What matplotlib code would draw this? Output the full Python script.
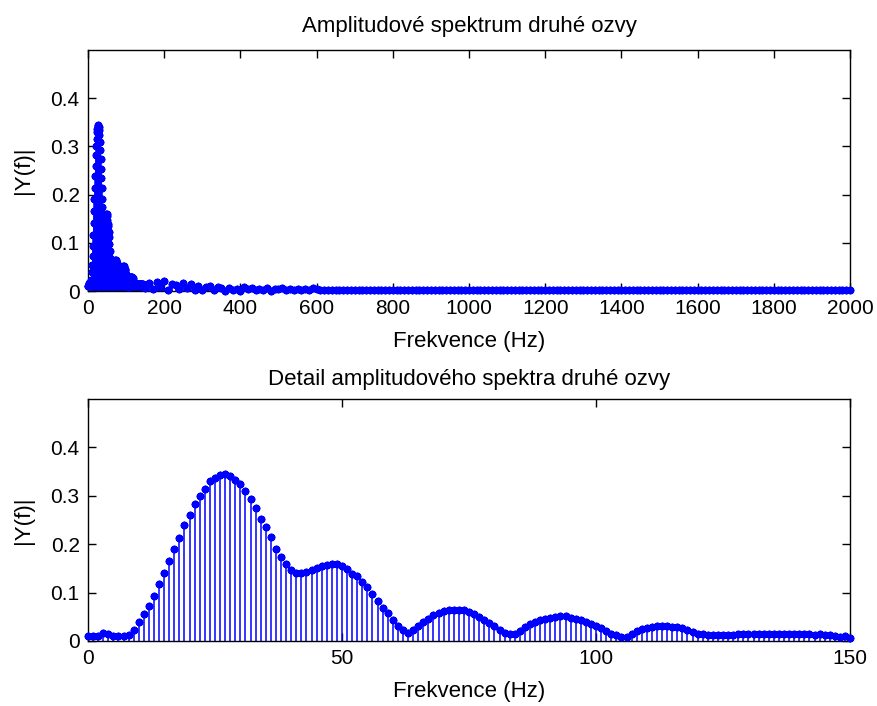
import numpy as np
import matplotlib
matplotlib.use("Agg")
from matplotlib import pyplot as plt

plt.rcParams['font.family'] = ['Liberation Sans', 'DejaVu Sans']

# detail spectrum, 0..150 Hz at 1 Hz steps
detail_freq = np.arange(0, 151)
detail_amp = [
    0.010, 0.010, 0.010, 0.016, 0.015, 0.010, 0.010, 0.010, 0.012, 0.023,
    0.039, 0.055, 0.072, 0.093, 0.117, 0.141, 0.166, 0.191, 0.213, 0.239,
    0.260, 0.283, 0.300, 0.315, 0.330, 0.336, 0.342, 0.344, 0.340, 0.333,
    0.324, 0.310, 0.293, 0.274, 0.253, 0.235, 0.214, 0.191, 0.174, 0.159,
    0.146, 0.141, 0.141, 0.142, 0.146, 0.150, 0.155, 0.158, 0.160, 0.160,
    0.155, 0.148, 0.138, 0.134, 0.122, 0.112, 0.098, 0.083, 0.069, 0.057,
    0.044, 0.030, 0.022, 0.017, 0.022, 0.030, 0.039, 0.046, 0.053, 0.058,
    0.062, 0.063, 0.065, 0.065, 0.063, 0.059, 0.055, 0.050, 0.044, 0.037,
    0.030, 0.023, 0.017, 0.014, 0.015, 0.021, 0.028, 0.035, 0.039, 0.043,
    0.046, 0.048, 0.050, 0.051, 0.051, 0.048, 0.045, 0.043, 0.039, 0.036,
    0.030, 0.026, 0.020, 0.015, 0.012, 0.008, 0.008, 0.015, 0.020, 0.024,
    0.027, 0.029, 0.030, 0.030, 0.030, 0.029, 0.028, 0.026, 0.022, 0.019,
    0.015, 0.014, 0.012, 0.012, 0.012, 0.012, 0.012, 0.013, 0.015, 0.015,
    0.015, 0.015, 0.015, 0.015, 0.015, 0.015, 0.015, 0.015, 0.015, 0.015,
    0.015, 0.015, 0.015, 0.013, 0.015, 0.013, 0.012, 0.010, 0.008, 0.010,
    0.007,
]

# rest of the spectrum, 160..2000 Hz (read coarser, 10 Hz steps)
tail_freq = np.arange(160, 2001, 10)
tail_amp = [
    # 160 .. 600 Hz
    0.016, 0.004, 0.018, 0.008, 0.020, 0.003, 0.015, 0.012, 0.004, 0.017,
    0.006, 0.014, 0.002, 0.011, 0.003, 0.009, 0.010, 0.002, 0.008, 0.006,
    0.001, 0.007, 0.003, 0.005, 0.001, 0.009, 0.004, 0.006, 0.002, 0.005,
    0.003, 0.007, 0.001, 0.005, 0.004, 0.006, 0.002, 0.005, 0.003, 0.004,
    0.002, 0.005, 0.003, 0.006, 0.004,
    # 610 .. 2000 Hz
    0.003, 0.002, 0.003, 0.002, 0.003, 0.002, 0.003, 0.003, 0.002, 0.003,
    0.002, 0.003, 0.002, 0.002, 0.003, 0.002, 0.003, 0.002, 0.003, 0.002,
    0.003, 0.002, 0.002, 0.003, 0.002, 0.003, 0.002, 0.003, 0.002, 0.002,
    0.003, 0.002, 0.003, 0.002, 0.003, 0.002, 0.002, 0.003, 0.002, 0.003,
    0.002, 0.003, 0.002, 0.002, 0.003, 0.002, 0.003, 0.002, 0.003, 0.002,
    0.002, 0.003, 0.002, 0.003, 0.002, 0.003, 0.002, 0.002, 0.003, 0.002,
    0.003, 0.002, 0.003, 0.002, 0.002, 0.003, 0.002, 0.003, 0.002, 0.003,
    0.002, 0.002, 0.003, 0.002, 0.003, 0.002, 0.003, 0.002, 0.002, 0.003,
    0.002, 0.003, 0.002, 0.003, 0.002, 0.002, 0.003, 0.002, 0.003, 0.002,
    0.003, 0.002, 0.002, 0.003, 0.002, 0.003, 0.002, 0.003, 0.002, 0.002,
    0.002, 0.003, 0.002, 0.002, 0.003, 0.002, 0.003, 0.002, 0.002, 0.003,
    0.003, 0.002, 0.002, 0.003, 0.002, 0.002, 0.003, 0.002, 0.003, 0.002,
    0.002, 0.003, 0.002, 0.002, 0.003, 0.002, 0.002, 0.003, 0.002, 0.003,
    0.002, 0.002, 0.003, 0.002, 0.002, 0.003, 0.002, 0.002, 0.003, 0.002,
]

full_freq = np.concatenate([detail_freq, tail_freq])
full_amp = np.concatenate([detail_amp, tail_amp])

ytick_vals = [0, 0.1, 0.2, 0.3, 0.4]
ytick_labels = ['0', '0.1', '0.2', '0.3', '0.4']


def stem_panel(ax, x, y, xlim, xticks, title, title_pad):
    markerline, stemlines, baseline = ax.stem(x, y, linefmt='b-', basefmt=' ')
    markerline.set_marker((8, 2, 0))
    markerline.set_markersize(5.5)
    markerline.set_markeredgewidth(1.5)
    markerline.set_color('#0000ff')
    markerline.set_clip_on(False)
    markerline.set_zorder(3)
    stemlines.set_linewidth(1.1)
    stemlines.set_color('#0000ff')
    baseline.set_visible(False)

    ax.set_xlim(xlim)
    ax.set_ylim(0, 0.5)
    ax.set_xticks(xticks)
    ax.set_yticks(ytick_vals)
    ax.set_yticklabels(ytick_labels)
    ax.tick_params(direction='in', length=6, width=1, top=True, right=True,
                   labelsize=15, pad=6)
    for sp in ax.spines.values():
        sp.set_linewidth(1)
    ax.set_title(title, fontsize=16, pad=title_pad)
    ax.set_xlabel('Frekvence (Hz)', fontsize=16, labelpad=9)
    ax.set_ylabel('|Y(f)|', fontsize=16, labelpad=12)


fig = plt.figure(figsize=(8.77, 7.06), dpi=100)
ax1 = fig.add_axes([0.1003, 0.5878, 0.869, 0.3414])
ax2 = fig.add_axes([0.1003, 0.0921, 0.869, 0.3428])

stem_panel(ax1, full_freq, full_amp, (0, 2000), np.arange(0, 2001, 200),
           'Amplitudové spektrum druhé ozvy', 13)
stem_panel(ax2, detail_freq, detail_amp, (0, 150), [0, 50, 100, 150],
           'Detail amplitudového spektra druhé ozvy', 10)

plt.savefig('out.png', dpi=100)
